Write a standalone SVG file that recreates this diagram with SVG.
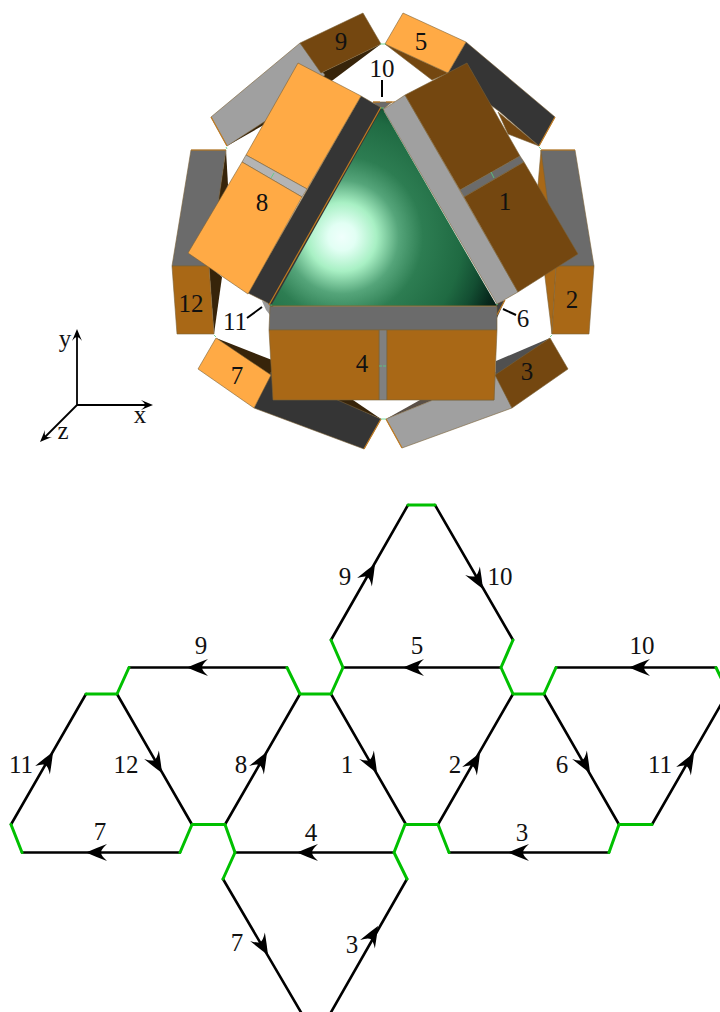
<svg xmlns="http://www.w3.org/2000/svg" width="720" height="1012" viewBox="0 0 720 1012">
<style>
text{font-family:"Liberation Serif","Times New Roman",serif;font-size:25px;fill:#111;text-anchor:middle}
.o{fill:#ffaa45}.b{fill:#744710}.m{fill:#a96816}.d{fill:#353535}.l{fill:#a0a0a0}.g{fill:#6b6b6b}.p{fill:#b4b4b4}.s{fill:#37240a}.k{fill:#808080}
.o,.b,.m,.d,.l,.g,.p,.k{stroke:#7a6238;stroke-width:.6;stroke-linejoin:round}
.e{fill:none;stroke:#c07a20;stroke-width:1.2}
.t{fill:none;stroke:#55d080;stroke-width:.8}
.lead{fill:none;stroke:#000;stroke-width:2}
.blk{fill:none;stroke:#000;stroke-width:2.6;stroke-linecap:round;stroke-linejoin:round}
.grn{fill:none;stroke:#00c000;stroke-width:3;stroke-linecap:round;stroke-linejoin:round}
.ax{fill:none;stroke:#000;stroke-width:1.8}
</style>
<defs>
<radialGradient id="sph" gradientUnits="userSpaceOnUse" cx="342" cy="237" r="172">
<stop offset="0" stop-color="#f0fffc"/>
<stop offset=".08" stop-color="#e2fff4"/>
<stop offset=".2" stop-color="#a8f0c4"/>
<stop offset=".33" stop-color="#55a57a"/>
<stop offset=".47" stop-color="#2d7d52"/>
<stop offset=".7" stop-color="#1f6a42"/>
<stop offset=".82" stop-color="#134e32"/>
<stop offset=".93" stop-color="#07281c"/>
<stop offset="1" stop-color="#021a14"/>
</radialGradient>
<path id="ah" d="M0 0Q-9-4-21-8.5Q-15-3-15 0Q-15 3-21 8.5Q-9 4 0 0Z" fill="#000"/>
<path id="sm" d="M0 0Q-5-2-12-5Q-8-2-8 0Q-8 2-12 5Q-5 2 0 0Z" fill="#000"/>
</defs>

<g id="model">
<g id="outer-9-gray">
<polygon class="s" points="227,146 275,112 300,90 321,73 381,44 333,80 290,110"/>
<polygon class="l" points="300,43 211,117 227,146 290,105 325,75"/>
<line class="e" x1="211" y1="117" x2="227" y2="146"/>
</g>
<g id="outer-5-dark">
<polygon class="b" points="385,44 448,73 432,80"/>
<polygon class="b" points="498,112 539,146 508,134"/>
<polygon class="d" points="466,42 555,117 539,146 500,112 448,73"/>
<line class="e" x1="555" y1="117" x2="539" y2="146"/>
</g>
<g id="outer-12-gray">
<polygon class="s" points="226,150 228,185 216,215"/>
<polygon class="g" points="191,150 226,150 209,266 172,266"/>
<line class="e" x1="191" y1="150" x2="226" y2="150"/>
<polygon class="s" points="209,266 222,277 214,334"/>
</g>
<g id="outer-2-gray">
<polygon class="m" points="541,150 538,185 545,277 552,334 556,266 552,200"/>
<polygon class="g" points="541,150 575,150 594,266 556,266"/>
<line class="e" x1="541" y1="150" x2="575" y2="150"/>
</g>
<g id="outer-7-dark">
<polygon class="s" points="216,338 272,360 272,378"/>
<polygon class="s" points="330,398 381,419 353,400"/>
<polygon class="d" points="271,372 254,408 364,449 381,419 333,398"/>
<line class="e" x1="364" y1="449" x2="381" y2="419"/>
</g>
<g id="outer-3-light">
<polygon points="550,338 496,361 495,378" fill="#505050"/>
<polygon points="386,419 433,400 420,400" fill="#5a5048"/>
<polygon class="l" points="495,372 512,408 402,448 386,419 433,400 494,400"/>
<line class="e" x1="386" y1="419" x2="402" y2="448"/>
</g>
<g id="tile-9"><polygon class="b" points="300,43 363,13 381,44 321,73"/></g>
<g id="tile-5"><polygon class="o" points="403,13 466,42 448,73 385,44"/></g>
<g id="tile-12"><polygon class="m" points="172,266 209,266 214,334 177,334"/></g>
<g id="tile-2"><polygon class="m" points="556,266 594,266 589,334 552,334"/></g>
<g id="tile-7"><polygon class="o" points="216,338 271,375 254,408 198,369"/></g>
<g id="tile-3"><polygon class="b" points="550,338 568,369 512,408 495,375"/></g>

<g id="corners">
<polygon class="g" points="373,102 392,102 382,110"/>
<line class="e" x1="373" y1="102" x2="380" y2="102"/>
<line class="e" x1="386" y1="102" x2="395" y2="102"/>
<polygon points="262,301 268,302 272,305 270,315 266,310" fill="#9a9a9a"/>
<polygon points="496,304 505,300 497,318" fill="#404040"/>
<line class="e" x1="505" y1="300" x2="497" y2="315"/>
</g>
<g id="face-8">
<polygon class="d" points="361,96 380,107 384,110 272,308 268,303 248,293"/>
<polygon class="o" points="298,63 361,96 307,189 246,155"/>
<polygon class="p" points="246,155 307,189 302,197 242,162"/>
<polygon class="o" points="242,162 302,197 248,294 188,253"/>
</g>
<g id="face-1">
<polygon class="l" points="405,95 518,292 497,304 383,109 387,107"/>
<polygon class="b" points="467,63 405,95 460,190 520,156"/>
<polygon class="g" points="460,190 520,156 524,162 464,197"/>
<polygon class="b" points="464,197 524,162 578,254 518,292"/>
</g>
<g id="sphere-triangle"><polygon points="382,108 271,306 497,306" fill="url(#sph)"/>
<line class="e" x1="269" y1="305" x2="381" y2="107"/>
<line x1="271" y1="306" x2="497" y2="306" stroke="#8a6a30" stroke-width="1"/>
</g>
<g id="face-4">
<polygon class="g" points="270,306.5 497,306.5 497,330 269,330"/>
<polygon class="k" points="379,330 387,330 387,400 379,400"/>
<polygon class="m" points="269,330 379,330 379,400 273,400"/>
<polygon class="m" points="387,330 497,330 494,400 387,400"/>
</g>
<g id="seams">
<line class="t" x1="271" y1="178" x2="274" y2="173"/>
<line class="t" x1="491" y1="172" x2="494" y2="178"/>
<line class="t" x1="379" y1="366" x2="387" y2="366" stroke-dasharray="3 1"/>
<line class="t" x1="380" y1="108" x2="384" y2="108"/>
<line class="t" x1="380" y1="44" x2="386" y2="44"/>
<line class="t" x1="226" y1="147" x2="227" y2="149"/>
<line class="t" x1="539" y1="147" x2="541" y2="149"/>
<line class="t" x1="214" y1="335" x2="216" y2="337"/>
<line class="t" x1="552" y1="335" x2="550" y2="337"/>
<line class="t" x1="381" y1="419" x2="386" y2="419"/>
<line class="t" x1="270" y1="305" x2="272" y2="305"/>
<line class="t" x1="496" y1="305" x2="498" y2="304"/>
</g>
<g id="model-labels">
<text x="341" y="50">9</text>
<text x="421" y="50">5</text>
<text x="382" y="77">10</text>
<text x="262" y="211">8</text>
<text x="505" y="210">1</text>
<text x="191" y="312">12</text>
<text x="572" y="308">2</text>
<text x="235" y="330">11</text>
<text x="523" y="327">6</text>
<text x="362" y="372">4</text>
<text x="237" y="384">7</text>
<text x="527" y="380">3</text>
</g>
<g id="leaders">
<line class="lead" x1="382" y1="80" x2="382" y2="97"/>
<line class="lead" x1="247" y1="318" x2="262" y2="307"/>
<line class="lead" x1="503" y1="309" x2="516" y2="315"/>
</g>
</g>

<g id="axes">
<line class="ax" x1="77" y1="405" x2="77" y2="335"/>
<line class="ax" x1="77" y1="405" x2="147" y2="405"/>
<line class="ax" x1="77" y1="405" x2="45" y2="437"/>
<use href="#sm" transform="translate(77,329) rotate(-90)"/>
<use href="#sm" transform="translate(153,405)"/>
<use href="#sm" transform="translate(40,442) rotate(135)"/>
<text x="65" y="347">y</text>
<text x="140" y="423">x</text>
<text x="63" y="439">z</text>
</g>

<g id="connectors">
<g id="net-black">
<path class="blk" d="M86 694L11 824.5M22 852.5H180M192 824.5L117 694M129 667.5H287M300 694L225 824.5M331 694L406 824.5M343 667.5H501M331 640L408 505M435 505L513 640M513 694L438 824.5M544 694L619 824.5M556 667.5H716M652 824.5L727 694M235 852.5H394M449 852.5H609M223 879L302 1014M407 879L330 1014"/>
</g>
<g id="net-green">
<path class="grn" d="M86 694H117L129 667.5M11 824.5L22 852.5M180 852.5L192 824.5H225L235 852.5L223 879M287 667.5L300 694H331L343 667.5L331 640M408 505H435M513 640L501 667.5L513 694H544L556 667.5M716 667.5L722 680M405 824.5H438L449 852.5M405 824.5L394 852.5L407 879M609 852.5L619 824.5H652"/>
</g>
<g id="net-arrows">
<use href="#ah" transform="translate(187,667.5) rotate(180)"/>
<use href="#ah" transform="translate(86,852.5) rotate(180)"/>
<use href="#ah" transform="translate(297,852.5) rotate(180)"/>
<use href="#ah" transform="translate(403,667.5) rotate(180)"/>
<use href="#ah" transform="translate(629,667.5) rotate(180)"/>
<use href="#ah" transform="translate(508,852.5) rotate(180)"/>
<use href="#ah" transform="translate(53,752) rotate(-60)"/>
<use href="#ah" transform="translate(162,773) rotate(60)"/>
<use href="#ah" transform="translate(267,752) rotate(-60)"/>
<use href="#ah" transform="translate(377,773) rotate(60)"/>
<use href="#ah" transform="translate(480,753) rotate(-60)"/>
<use href="#ah" transform="translate(590,773) rotate(60)"/>
<use href="#ah" transform="translate(694,753) rotate(-60)"/>
<use href="#ah" transform="translate(375,564) rotate(-60)"/>
<use href="#ah" transform="translate(483,589) rotate(60)"/>
<use href="#ah" transform="translate(268,955) rotate(60)"/>
<use href="#ah" transform="translate(378,926) rotate(-60)"/>
</g>
</g>
<g id="net-labels">
<text x="201" y="654">9</text>
<text x="21" y="773">11</text>
<text x="126" y="773">12</text>
<text x="241" y="773">8</text>
<text x="347" y="773">1</text>
<text x="100" y="840">7</text>
<text x="311" y="841">4</text>
<text x="345" y="585">9</text>
<text x="500" y="585">10</text>
<text x="417" y="654">5</text>
<text x="642" y="654">10</text>
<text x="455" y="773">2</text>
<text x="562" y="773">6</text>
<text x="660" y="773">11</text>
<text x="522" y="841">3</text>
<text x="237" y="951">7</text>
<text x="352" y="953">3</text>
</g>
</svg>
